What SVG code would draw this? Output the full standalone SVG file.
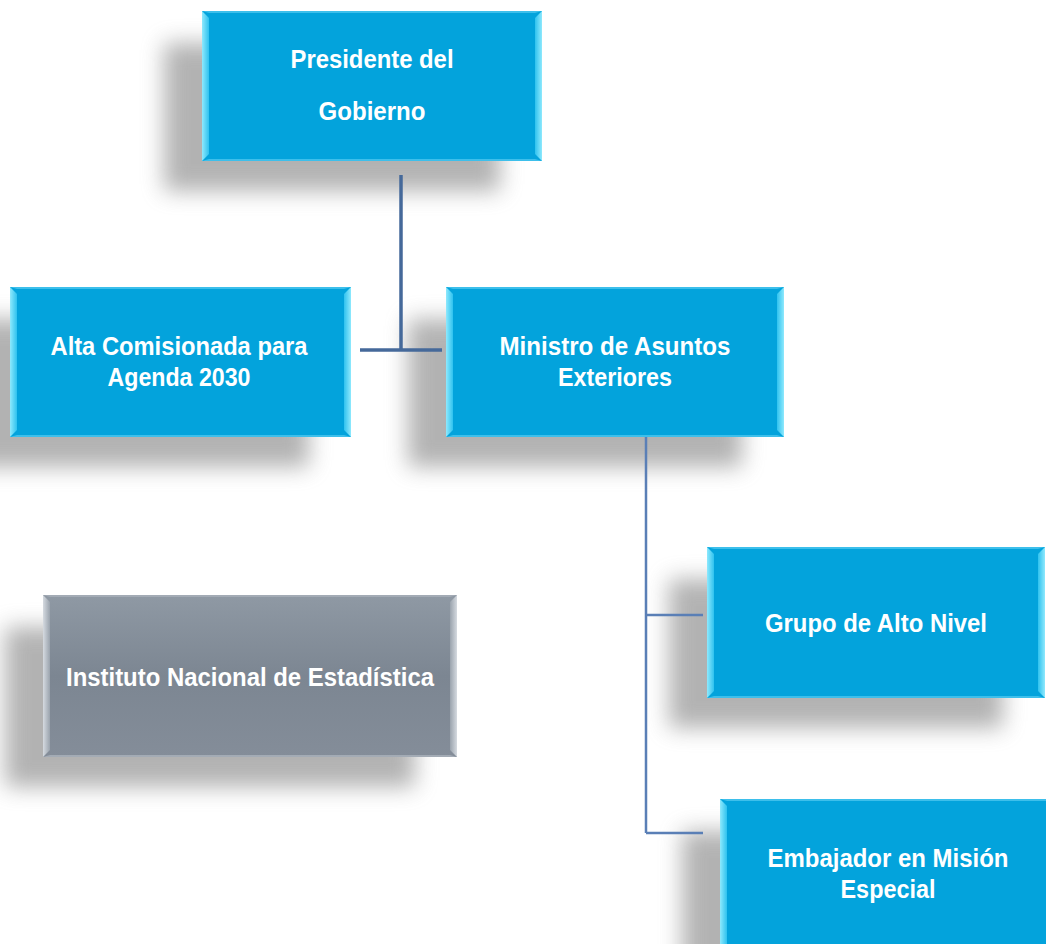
<svg xmlns="http://www.w3.org/2000/svg" width="1046" height="944" viewBox="0 0 1046 944">
<defs>
<filter id="sh" x="-30%" y="-40%" width="160%" height="180%"><feGaussianBlur stdDeviation="11"/></filter>
<linearGradient id="bl" x1="0" y1="0" x2="1" y2="0"><stop offset="0" stop-color="#8fe9fd"/><stop offset="1" stop-color="#2fc2ef"/></linearGradient>
<linearGradient id="br" x1="0" y1="0" x2="1" y2="0"><stop offset="0" stop-color="#2fc2ef"/><stop offset="1" stop-color="#8fe9fd"/></linearGradient>
<linearGradient id="gl" x1="0" y1="0" x2="1" y2="0"><stop offset="0" stop-color="#d5dae0"/><stop offset="1" stop-color="#9aa3ad"/></linearGradient>
<linearGradient id="gr" x1="0" y1="0" x2="1" y2="0"><stop offset="0" stop-color="#9aa3ad"/><stop offset="1" stop-color="#d5dae0"/></linearGradient>
<linearGradient id="gf" x1="0" y1="0" x2="0" y2="1"><stop offset="0" stop-color="#8f99a4"/><stop offset="0.5" stop-color="#7c8692"/><stop offset="1" stop-color="#848d99"/></linearGradient>
</defs>
<style>
.shadow{fill:#8a8a8a;opacity:0.65;filter:url(#sh)}
.face{fill:#03a3dc}
.gface{fill:url(#gf)}
.tb{fill:#3dbfeb}
.gtb{fill:#a3abb5}
.t{font-family:"Liberation Sans",Arial,sans-serif;font-weight:bold;font-size:26px;fill:#ffffff;text-anchor:middle}
.c1{stroke:#45699a;stroke-width:3.5;fill:none}
.c2{stroke:#5a7fb6;stroke-width:2.5;fill:none}
</style>
<rect width="1046" height="944" fill="#ffffff"/>

<g id="shadows">
<rect class="shadow" x="164" y="43" width="336" height="148"/>
<rect class="shadow" x="-28" y="319" width="337" height="148"/>
<rect class="shadow" x="408" y="319" width="334" height="148"/>
<rect class="shadow" x="5" y="627" width="410" height="160"/>
<rect class="shadow" x="669" y="579" width="334" height="149"/>
<rect class="shadow" x="682" y="831" width="332" height="148"/>
</g>

<g id="connectors">
<path class="c1" d="M401,175 V350 M360,350 H442"/>
<path class="c2" d="M646,437 V833 M646,615 H703 M646,833 H703"/>
</g>

<g id="n-presidente">
<rect class="face" x="202" y="11" width="340" height="150"/>
<polygon class="tb" points="202,11 542,11 535,13 209,13"/>
<polygon class="tb" points="202,161 542,161 535,159 209,159"/>
<polygon fill="url(#bl)" points="202,11 209,18 209,154 202,161"/>
<polygon fill="url(#br)" points="542,11 535,18 535,154 542,161"/>
<text class="t" x="372" y="68" textLength="163" lengthAdjust="spacingAndGlyphs">Presidente del</text>
<text class="t" x="372" y="120" textLength="107" lengthAdjust="spacingAndGlyphs">Gobierno</text>
</g>

<g id="n-alta">
<rect class="face" x="10" y="287" width="341" height="150"/>
<polygon class="tb" points="10,287 351,287 344,289 17,289"/>
<polygon class="tb" points="10,437 351,437 344,435 17,435"/>
<polygon fill="url(#bl)" points="10,287 17,294 17,430 10,437"/>
<polygon fill="url(#br)" points="351,287 344,294 344,430 351,437"/>
<text class="t" x="179" y="355" textLength="257" lengthAdjust="spacingAndGlyphs">Alta Comisionada para</text>
<text class="t" x="179" y="386" textLength="143" lengthAdjust="spacingAndGlyphs">Agenda 2030</text>
</g>

<g id="n-ministro">
<rect class="face" x="446" y="287" width="338" height="150"/>
<polygon class="tb" points="446,287 784,287 777,289 453,289"/>
<polygon class="tb" points="446,437 784,437 777,435 453,435"/>
<polygon fill="url(#bl)" points="446,287 453,294 453,430 446,437"/>
<polygon fill="url(#br)" points="784,287 777,294 777,430 784,437"/>
<text class="t" x="615" y="355" textLength="231" lengthAdjust="spacingAndGlyphs">Ministro de Asuntos</text>
<text class="t" x="615" y="386" textLength="114" lengthAdjust="spacingAndGlyphs">Exteriores</text>
</g>

<g id="n-ine">
<rect class="gface" x="43" y="595" width="414" height="162"/>
<polygon class="gtb" points="43,595 457,595 450,597 50,597"/>
<polygon class="gtb" points="43,757 457,757 450,755 50,755"/>
<polygon fill="url(#gl)" points="43,595 50,602 50,750 43,757"/>
<polygon fill="url(#gr)" points="457,595 450,602 450,750 457,757"/>
<text class="t" x="250" y="686" textLength="368" lengthAdjust="spacingAndGlyphs">Instituto Nacional de Estadística</text>
</g>

<g id="n-grupo">
<rect class="face" x="707" y="547" width="338" height="151"/>
<polygon class="tb" points="707,547 1045,547 1038,549 714,549"/>
<polygon class="tb" points="707,698 1045,698 1038,696 714,696"/>
<polygon fill="url(#bl)" points="707,547 714,554 714,691 707,698"/>
<polygon fill="url(#br)" points="1045,547 1038,554 1038,691 1045,698"/>
<text class="t" x="876" y="632" textLength="222" lengthAdjust="spacingAndGlyphs">Grupo de Alto Nivel</text>
</g>

<g id="n-embajador">
<rect class="face" x="720" y="799" width="336" height="150"/>
<polygon class="tb" points="720,799 1056,799 1049,801 727,801"/>
<polygon fill="url(#bl)" points="720,799 727,806 727,949 720,949"/>
<text class="t" x="888" y="867" textLength="241" lengthAdjust="spacingAndGlyphs">Embajador en Misión</text>
<text class="t" x="888" y="898" textLength="95" lengthAdjust="spacingAndGlyphs">Especial</text>
</g>
</svg>
